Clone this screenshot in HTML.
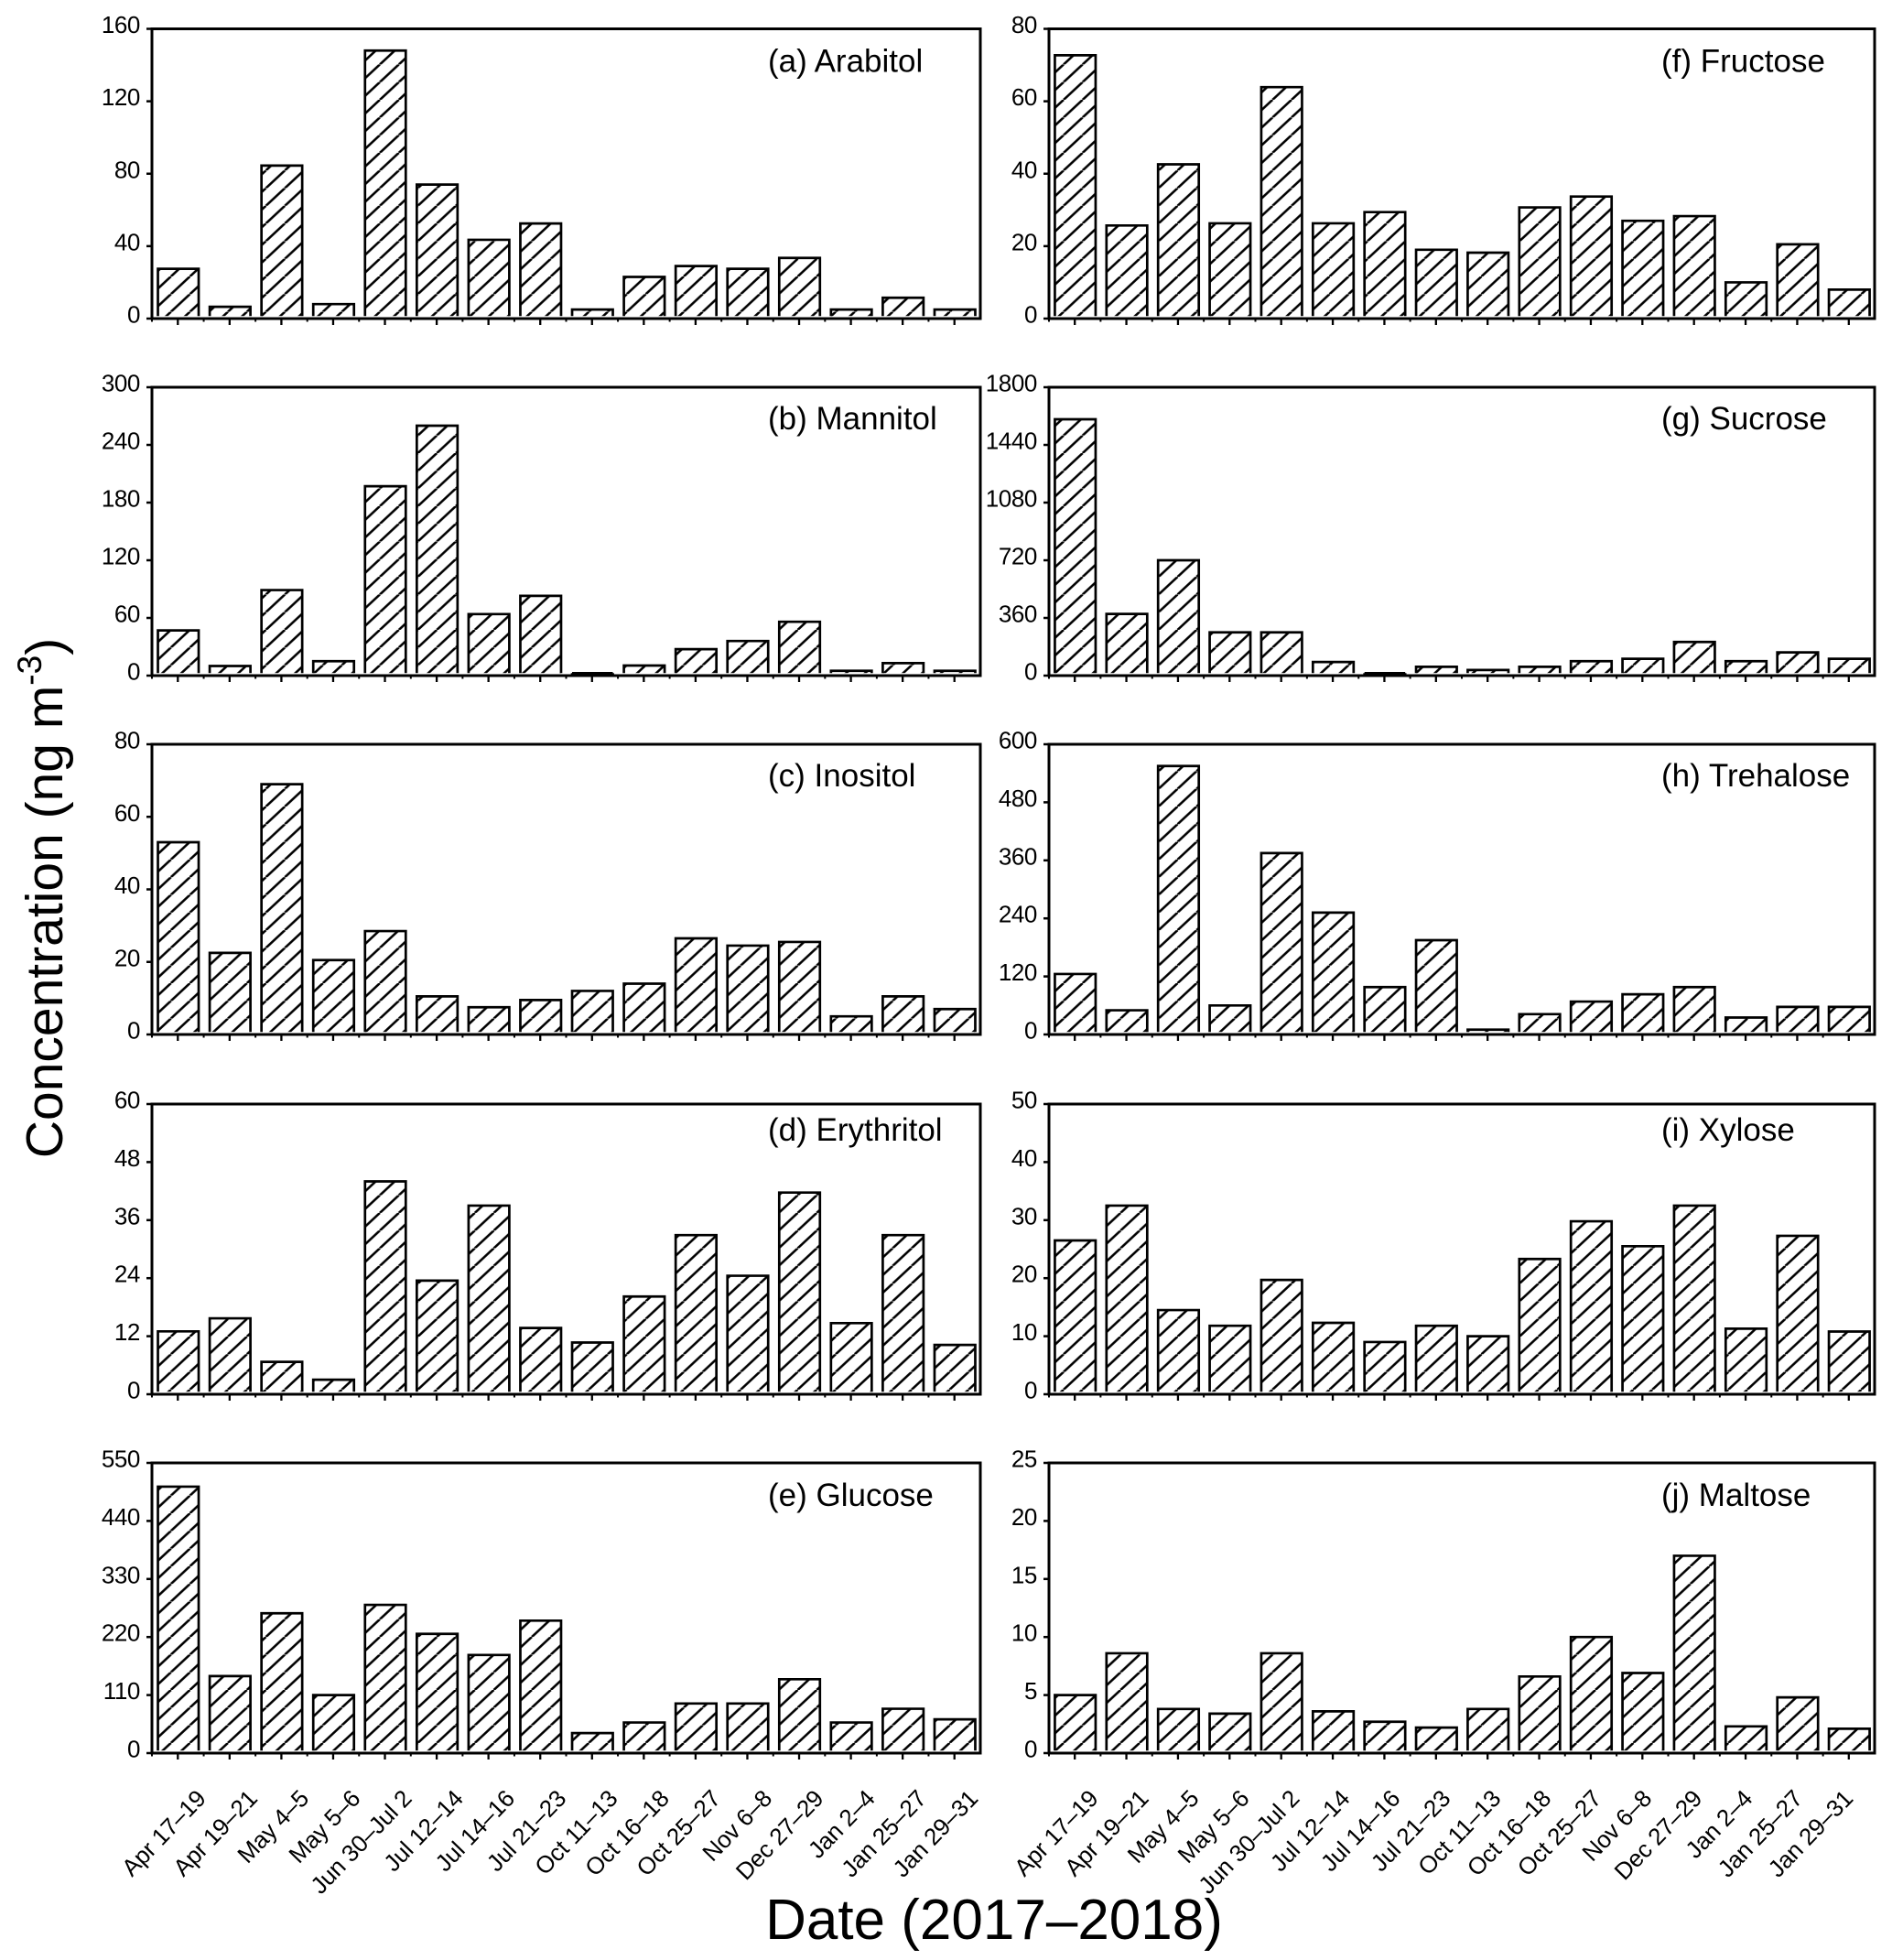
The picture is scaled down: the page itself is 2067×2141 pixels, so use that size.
<!DOCTYPE html>
<html><head><meta charset="utf-8"><title>Sugar concentrations</title>
<style>
html,body{margin:0;padding:0;background:#fff}
svg{display:block}
text{font-family:"Liberation Sans",Arial,sans-serif;fill:#000}
</style></head>
<body>
<svg id="chart" xmlns="http://www.w3.org/2000/svg" width="2067" height="2141" viewBox="0 0 2067 2141">
<defs>
<pattern id="hatch" patternUnits="userSpaceOnUse" x="0" y="12.5" width="20.75" height="19.3">
<g stroke="#000" stroke-width="2.6">
<line x1="0" y1="19.3" x2="20.75" y2="0"/>
<line x1="-20.75" y1="19.3" x2="0" y2="0"/>
<line x1="20.75" y1="19.3" x2="41.5" y2="0"/>
</g>
</pattern>
</defs>
<text transform="translate(68,981) rotate(-90)" text-anchor="middle" font-size="57">Concentration (ng m<tspan font-size="37" dy="-23">-3</tspan><tspan dy="23">)</tspan></text>
<text x="1086" y="2118" text-anchor="middle" font-size="62">Date (2017–2018)</text>
<g id="plots"></g>
</svg>
<script>
const categories = ["Apr 17–19","Apr 19–21","May 4–5","May 5–6","Jun 30–Jul 2","Jul 12–14","Jul 14–16","Jul 21–23","Oct 11–13","Oct 16–18","Oct 25–27","Nov 6–8","Dec 27–29","Jan 2–4","Jan 25–27","Jan 29–31"];

const arabitol   = [27.5,6.5,84.5,8,148,74,43.5,52.5,5,23,29,27.5,33.5,5,11.5,5];
const mannitol   = [47,10,89,15,197,260,64,83,2.5,10.5,27.5,36,56,5,13,5];
const inositol   = [53,22.5,69,20.5,28.5,10.5,7.5,9.5,12,14,26.5,24.5,25.5,5,10.5,7];
const erythritol = [13,15.7,6.7,3,44,23.5,39,13.7,10.7,20.2,32.9,24.5,41.7,14.7,32.9,10.2];
const glucose    = [505,146,265,110,281,226,186,251,38,58,94,94,140,58,84,64];
const fructose   = [72.7,25.7,42.6,26.3,63.9,26.3,29.4,19,18.2,30.7,33.7,27,28.3,10,20.5,8];
const sucrose    = [1600,385,720,270,270,85,15,55,35,55,90,105,210,90,145,105];
const trehalose  = [125,50,555,60,375,252,98,195,10,42,68,83,98,35,57,57];
const xylose     = [26.5,32.5,14.5,11.8,19.7,12.3,9,11.8,10,23.3,29.8,25.5,32.5,11.3,27.3,10.8];
const maltose    = [5,8.6,3.8,3.4,8.6,3.6,2.7,2.2,3.8,6.6,10,6.9,17,2.3,4.8,2.1];

const ticksArabitol   = [0,40,80,120,160];
const ticksMannitol   = [0,60,120,180,240,300];
const ticksInositol   = [0,20,40,60,80];
const ticksErythritol = [0,12,24,36,48,60];
const ticksGlucose    = [0,110,220,330,440,550];
const ticksFructose   = [0,20,40,60,80];
const ticksSucrose    = [0,360,720,1080,1440,1800];
const ticksTrehalose  = [0,120,240,360,480,600];
const ticksXylose     = [0,10,20,30,40,50];
const ticksMaltose    = [0,5,10,15,20,25];

const titles = ["(a) Arabitol","(b) Mannitol","(c) Inositol","(d) Erythritol","(e) Glucose","(f) Fructose","(g) Sucrose","(h) Trehalose","(i) Xylose","(j) Maltose"];
const names = ["arabitol","mannitol","inositol","erythritol","glucose","fructose","sucrose","trehalose","xylose","maltose"];
const seriesList = [arabitol,mannitol,inositol,erythritol,glucose,fructose,sucrose,trehalose,xylose,maltose];
const tickList = [ticksArabitol,ticksMannitol,ticksInositol,ticksErythritol,ticksGlucose,ticksFructose,ticksSucrose,ticksTrehalose,ticksXylose,ticksMaltose];

const NS = 'http://www.w3.org/2000/svg';
const rowTop = [31.5,423,813,1206,1598];
const rowBottom = [348,738,1130,1523,1915];
const colLeft = [166,1146];
const colRight = [1071,2048];
const titleBaselineOffset = [47,46,46,40,47];
const titleX = [839,1815];
const labelEndShift = [32,27];
const labelEndSlope = [0.33,1.4];
const BAR_W = 44.5;

function make(tag, attrs, parent, text){
  const el = document.createElementNS(NS, tag);
  for (const k in attrs) el.setAttribute(k, attrs[k]);
  if (text !== undefined) el.textContent = text;
  parent.appendChild(el);
  return el;
}

const root = document.getElementById('plots');

function drawPanel(index){
  const col = index < 5 ? 0 : 1;
  const row = index % 5;
  const values = seriesList[index];
  const ticks = tickList[index];
  const left = colLeft[col], right = colRight[col], top = rowTop[row], bottom = rowBottom[row];
  const maxY = ticks[ticks.length - 1];
  const yScale = v => bottom - (v / maxY) * (bottom - top);
  const step = (right - left) / categories.length;
  const xScale = i => left + (i + 0.5) * step;

  const g = make('g', {}, root);
  
  

  values.forEach((v, i) => {
    const cx = xScale(i) + 0.5;
    const x0 = cx - BAR_W / 2, x1 = cx + BAR_W / 2;
    const yTop = yScale(v), yBase = bottom - 2.8;
    const bar = make('g', {}, g);
    
    
    if (yBase > yTop) {
      make('rect', {x: x0, y: yTop, width: BAR_W, height: yBase - yTop, fill: 'url(#hatch)'}, bar);
    }
    make('path', {d: 'M' + x0 + ' ' + yBase + 'V' + yTop + 'H' + x1 + 'V' + yBase, fill: 'none', stroke: '#000', 'stroke-width': 2.7}, bar);
  });

  const frame = make('rect', {x: left, y: top, width: right - left, height: bottom - top, fill: 'none', stroke: '#000', 'stroke-width': 3}, g);
  
  

  ticks.forEach(t => {
    const y = yScale(t);
    const tick = make('line', {x1: left - 6, x2: left, y1: y, y2: y, stroke: '#000', 'stroke-width': 2.5}, g);
    
    
    const label = make('text', {x: left - 13, y: y + 4.5, 'text-anchor': 'end', 'font-size': 26, 'letter-spacing': '-0.4'}, g, String(t));
    
    
  });

  categories.forEach((c, i) => {
    const cx = xScale(i);
    const tick = make('line', {x1: cx, x2: cx, y1: bottom, y2: bottom + 7, stroke: '#000', 'stroke-width': 2.3}, g);
    
    
    const minor = make('line', {x1: cx - step / 2, x2: cx - step / 2, y1: bottom, y2: bottom + 3.5, stroke: '#000', 'stroke-width': 2}, g);
    
    
    if (row === 4) {
      const ex = cx + labelEndShift[col] - i * labelEndSlope[col];
      const ey = 1966;
      const label = make('text', {transform: 'translate(' + ex + ',' + ey + ') rotate(-46)', 'text-anchor': 'end', 'font-size': 26, 'letter-spacing': '-0.2'}, g, c);
      
      
    }
  });

  const title = make('text', {x: titleX[col], y: top + titleBaselineOffset[row], 'font-size': 35}, g, titles[index]);
  
  
}

for (let i = 0; i < seriesList.length; i++) drawPanel(i);
</script>
</body></html>
